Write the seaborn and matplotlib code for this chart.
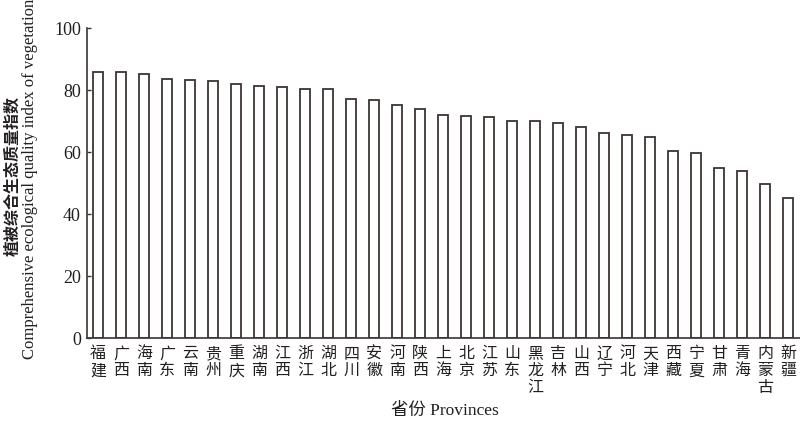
import matplotlib
matplotlib.use("Agg")
import matplotlib.pyplot as plt
import seaborn as sns
import pandas as pd

provinces = ["福建", "广西", "海南", "广东", "云南", "贵州", "重庆", "湖南", "江西", "浙江",
             "湖北", "四川", "安徽", "河南", "陕西", "上海", "北京", "江苏", "山东", "黑龙江",
             "吉林", "山西", "辽宁", "河北", "天津", "西藏", "宁夏", "甘肃", "青海", "内蒙古", "新疆"]
values = [85.8, 85.8, 85.4, 83.6, 83.4, 83.1, 81.9, 81.3, 81.0, 80.4,
          80.3, 77.1, 77.0, 75.4, 74.1, 72.1, 71.7, 71.5, 70.1, 70.0,
          69.5, 68.2, 66.2, 65.5, 64.9, 60.5, 59.9, 54.8, 54.1, 49.8, 45.3]
yticks = [0, 20, 40, 60, 80, 100]

sns.set_style("white")
FAM = ["Liberation Serif", "Noto Sans CJK SC", "DejaVu Sans"]
plt.rcParams["font.family"] = FAM

df = pd.DataFrame({"province": provinces, "value": values})

fig = plt.figure(figsize=(8, 4.23), dpi=100)
ax = fig.add_axes([86.5 / 800, 1 - 338.3 / 423, 1 - 86.5 / 800, (338.3 - 28.3) / 423])

edge = "#3b3431"
sns.barplot(data=df, x="province", y="value", color="white", edgecolor=edge,
            linewidth=1.3, width=0.435, saturation=1, ax=ax)

ax.set_xlim(-0.5, len(provinces) - 0.5)
ax.set_ylim(0, 100)
ax.set_yticks(yticks)
ax.set_yticklabels([str(t) for t in yticks], fontsize=13, family=FAM, color="#231f20")
ax.set_xticks(range(len(provinces)))
ax.set_xticklabels(["\n".join(p) for p in provinces], fontsize=11.5, family=["Noto Sans CJK SC"],
                   linespacing=1.0, va="top", color="#231f20")
ax.tick_params(axis="x", length=0, pad=5)
ax.tick_params(axis="y", direction="in", length=3, width=1, color=edge, pad=4, left=True)

for s in ["top", "right"]:
    ax.spines[s].set_visible(False)
for s in ["left", "bottom"]:
    ax.spines[s].set_color(edge)
    ax.spines[s].set_linewidth(1.2)

ax.set_xlabel("")
ax.set_ylabel("")

fig.text(12 / 800, 1 - 176 / 423, "植被综合生态质量指数", rotation=90, ha="center", va="center",
         fontsize=11.5, fontweight="bold", family=["Noto Sans CJK SC"], color="#231f20")
fig.text(30 / 800, 1 - 179 / 423, "Comprehensive ecological quality index of vegetation",
         rotation=90, ha="center", va="center", fontsize=12, family=FAM, color="#231f20")
fig.text(445 / 800, 1 - 411 / 423, "省份 Provinces", ha="center", va="center",
         fontsize=12.5, family=FAM, color="#231f20")

fig.savefig("out.png", dpi=100)
